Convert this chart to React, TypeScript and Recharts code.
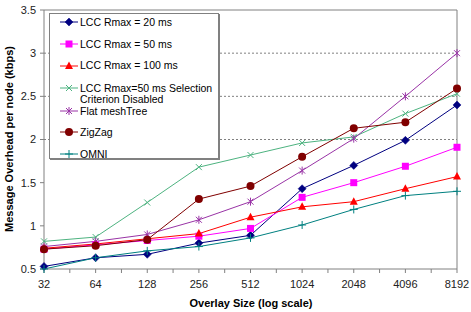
import React from 'react';
import { LineChart, Line, XAxis, YAxis, ReferenceLine, Legend, Label } from 'recharts';

const sizes = ['32', '64', '128', '256', '512', '1024', '2048', '4096', '8192'];
const lcc20 = [0.53, 0.63, 0.67, 0.8, 0.89, 1.43, 1.7, 1.99, 2.4];
const lcc50 = [0.73, 0.78, 0.83, 0.88, 0.97, 1.33, 1.5, 1.69, 1.91];
const lcc100 = [0.74, 0.79, 0.85, 0.91, 1.1, 1.22, 1.28, 1.43, 1.57];
const lccNoSel = [0.82, 0.87, 1.27, 1.68, 1.82, 1.96, 2.03, 2.3, 2.53];
const flatMesh = [0.76, 0.82, 0.9, 1.07, 1.28, 1.64, 2.01, 2.5, 3.0];
const zigzag = [0.73, 0.77, 0.84, 1.31, 1.46, 1.8, 2.13, 2.2, 2.59];
const omni = [0.5, 0.63, 0.71, 0.76, 0.86, 1.01, 1.19, 1.35, 1.4];
const yTicks = [0.5, 1, 1.5, 2, 2.5, 3, 3.5];
const gridValues = [2, 2.5, 3];

type Shape = 'diamond' | 'square' | 'triangle' | 'x' | 'star' | 'circle' | 'plus';

const series: { key: string; name: string[]; color: string; shape: Shape; values: number[] }[] = [
  { key: 'lcc20', name: ['LCC Rmax = 20 ms'], color: '#000080', shape: 'diamond', values: lcc20 },
  { key: 'lcc50', name: ['LCC Rmax = 50 ms'], color: '#FF00FF', shape: 'square', values: lcc50 },
  { key: 'lcc100', name: ['LCC Rmax = 100 ms'], color: '#FF0000', shape: 'triangle', values: lcc100 },
  { key: 'lccNoSel', name: ['LCC Rmax=50 ms Selection', 'Criterion Disabled'], color: '#4DB380', shape: 'x', values: lccNoSel },
  { key: 'flatMesh', name: ['Flat meshTree'], color: '#9933A6', shape: 'star', values: flatMesh },
  { key: 'zigzag', name: ['ZigZag'], color: '#800000', shape: 'circle', values: zigzag },
  { key: 'omni', name: ['OMNI'], color: '#008080', shape: 'plus', values: omni },
];

const data = sizes.map((s, i) => {
  const row: Record<string, number | string> = { i, size: s };
  series.forEach((sr) => {
    row[sr.key] = sr.values[i];
  });
  return row;
});

const xTicks: number[] = [];
for (let t = 0; t <= sizes.length - 1; t += 0.5) xTicks.push(t);

const FONT = '"Liberation Sans", Arial, sans-serif';

function Marker({ shape, color, cx, cy }: { shape: Shape; color: string; cx: number; cy: number }) {
  switch (shape) {
    case 'diamond':
      return (
        <polygon
          points={`${cx},${cy - 4} ${cx + 4},${cy} ${cx},${cy + 4} ${cx - 4},${cy}`}
          fill={color}
          stroke={color}
          strokeWidth={0.5}
        />
      );
    case 'square':
      return <rect x={cx - 3.5} y={cy - 3.5} width={7} height={7} fill={color} />;
    case 'triangle':
      return (
        <polygon
          points={`${cx},${cy - 4.5} ${cx + 4},${cy + 3} ${cx - 4},${cy + 3}`}
          fill={color}
        />
      );
    case 'x':
      return (
        <g stroke={color} strokeWidth={1}>
          <line x1={cx - 3} y1={cy - 3} x2={cx + 3} y2={cy + 3} />
          <line x1={cx - 3} y1={cy + 3} x2={cx + 3} y2={cy - 3} />
        </g>
      );
    case 'star':
      return (
        <g stroke={color} strokeWidth={1}>
          <line x1={cx - 3} y1={cy - 3} x2={cx + 3} y2={cy + 3} />
          <line x1={cx - 3} y1={cy + 3} x2={cx + 3} y2={cy - 3} />
          <line x1={cx} y1={cy - 4} x2={cx} y2={cy + 4} />
        </g>
      );
    case 'circle':
      return <circle cx={cx} cy={cy} r={4} fill={color} />;
    case 'plus':
    default:
      return (
        <g stroke={color} strokeWidth={1}>
          <line x1={cx - 4} y1={cy} x2={cx + 4} y2={cy} />
          <line x1={cx} y1={cy - 4} x2={cx} y2={cy + 4} />
        </g>
      );
  }
}

const rowTops = [8, 30, 51.5, 74, 97, 118, 140];

function LegendBox() {
  return (
    <div
      style={{
        position: 'relative',
        width: 168,
        height: 144,
        background: '#fff',
        border: '1px solid #808080',
        boxShadow: '1px 1px 0 #808080',
        fontFamily: FONT,
        fontSize: 10.5,
        color: '#000',
      }}
    >
      {series.map((s, idx) => (
        <div key={s.key} style={{ position: 'absolute', left: 0, top: rowTops[idx] - 6 }}>
          <svg width={30} height={12} style={{ position: 'absolute', left: 10, top: 0 }}>
            <line x1={0} y1={6} x2={18} y2={6} stroke={s.color} strokeWidth={1} />
            <Marker shape={s.shape} color={s.color} cx={9} cy={6} />
          </svg>
          {s.name.map((line, li) => (
            <div
              key={li}
              style={{
                position: 'absolute',
                left: 30,
                top: li * 11.5 + 0.5,
                whiteSpace: 'nowrap',
                lineHeight: '11px',
              }}
            >
              {line}
            </div>
          ))}
        </div>
      ))}
    </div>
  );
}

export default function App() {
  return (
    <div style={{ position: 'absolute', left: 0, top: 0, width: 471, height: 312, background: '#fff' }}>
      <LineChart width={471} height={312} data={data} margin={{ top: 10, right: 14, left: 0, bottom: 0 }}>
        <XAxis
          dataKey="i"
          type="number"
          domain={[0, 8]}
          ticks={xTicks}
          interval={0}
          allowDecimals
          height={43}
          stroke="#808080"
          tickSize={4}
          tickMargin={7}
          tick={{ fill: '#222', fontSize: 11, fontFamily: FONT }}
          tickFormatter={(v: number) => (Number.isInteger(v) ? sizes[v] : '')}
        >
          <Label
            content={() => (
              <text x={251} y={307} textAnchor="middle" fontFamily={FONT} fontSize={11} fontWeight="bold" fill="#000">
                Overlay Size (log scale)
              </text>
            )}
          />
        </XAxis>
        <YAxis
          type="number"
          domain={[0.5, 3.5]}
          ticks={yTicks}
          interval={0}
          width={44}
          stroke="#808080"
          tickSize={4}
          tickMargin={4}
          tick={{ fill: '#222', fontSize: 11, fontFamily: FONT }}
        >
          <Label
            content={() => (
              <text
                x={13}
                y={139}
                transform="rotate(-90 13 139)"
                textAnchor="middle"
                fontFamily={FONT}
                fontSize={11}
                fontWeight="bold"
                fill="#000"
              >
                Message Overhead per node (kbps)
              </text>
            )}
          />
        </YAxis>
        {gridValues.map((g) => (
          <ReferenceLine key={`g${g}`} y={g} stroke="#808080" strokeDasharray="2 2" />
        ))}
        <ReferenceLine y={3.5} stroke="#808080" />
        <ReferenceLine x={8} stroke="#808080" />
        {series.map((s) => (
          <Line
            key={s.key}
            dataKey={s.key}
            name={s.name.join(' ')}
            stroke={s.color}
            strokeWidth={1}
            isAnimationActive={false}
            activeDot={false}
            dot={(p: any) => (
              <Marker key={`${s.key}-${p.index}`} shape={s.shape} color={s.color} cx={p.cx} cy={p.cy} />
            )}
          />
        ))}
        <Legend
          layout="horizontal"
          verticalAlign="middle"
          align="center"
          wrapperStyle={{ position: 'absolute', left: 49, top: 13, width: 170, height: 146 }}
          content={() => <LegendBox />}
        />
      </LineChart>
    </div>
  );
}
